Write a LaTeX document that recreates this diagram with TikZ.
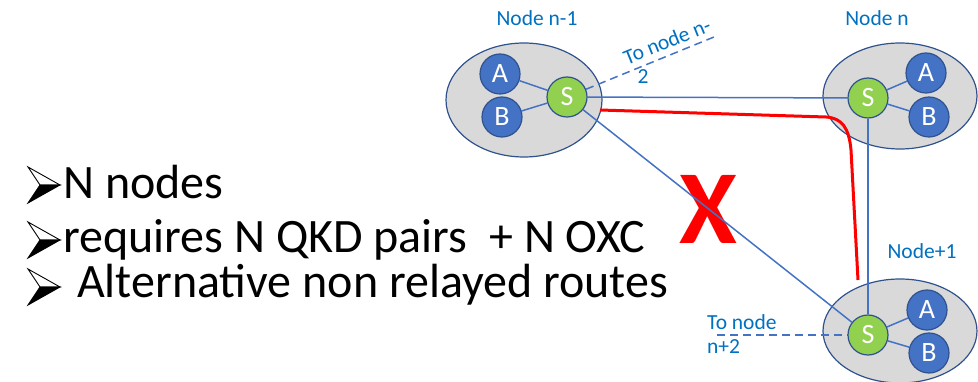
\documentclass[tikz,border=0pt]{standalone}
\usepackage{fontspec}
\setmainfont{Carlito}
\usetikzlibrary{shapes.geometric}
\definecolor{ellfill}{HTML}{D9D9D9}
\definecolor{darkblue}{HTML}{2F528F}
\definecolor{midblue}{HTML}{4472C4}
\definecolor{lblblue}{HTML}{0070C0}
\definecolor{sgreen}{HTML}{92D050}
\definecolor{xred}{HTML}{FF0000}
\pgfdeclarelayer{ellayer}
\pgfdeclarelayer{linklayer}
\pgfsetlayers{ellayer,linklayer,main}
\begin{document}
\begin{tikzpicture}[x=1pt,y=-1pt,
  site/.style={ellipse, draw=darkblue, fill=ellfill, line width=1.2pt, minimum width=#1},
  qkd/.style={circle, draw=darkblue, fill=midblue, line width=1.2pt, minimum size=40pt, inner sep=0pt, text=white, font=\fontsize{28}{28}\selectfont},
  sw/.style={circle, draw=darkblue, fill=sgreen, line width=1.2pt, minimum size=40pt, inner sep=0pt, text=white, font=\fontsize{28}{28}\selectfont},
  link/.style={draw=midblue, line width=1.5pt},
  dlink/.style={draw=midblue, line width=1.5pt, dash pattern=on 8pt off 5pt},
  lbl/.style={text=lblblue, font=\fontsize{21.5}{23}\selectfont, inner sep=0pt},
  bigtxt/.style={anchor=base west, inner sep=0pt, font=\fontsize{48}{48}\selectfont},
  route/.style={draw=xred, line width=3pt},
  bularrow/.pic={
    \filldraw[fill=white, draw=black, line width=0.9pt, line join=miter] (0,-18) -- (32,0) -- (12,0) -- cycle;
    \filldraw[fill=black, draw=black, line width=0.9pt, line join=miter] (12,0) -- (32,0) -- (0,18) -- cycle;
  }
]
\useasboundingbox (0,0) rectangle (978,382);
% site ellipses
\begin{pgfonlayer}{ellayer}
\node[site=156pt, minimum height=114pt] (E1) at (524,100) {};
\node[site=154pt, minimum height=106pt] (E2) at (900,96) {};
\node[site=154pt, minimum height=104pt] (E3) at (900,331) {};
\end{pgfonlayer}
% labels
\node[lbl] (L1) at (537,18) {Node n-1};
\node[lbl] (L2) at (877,18) {Node n};
\node[lbl] (L3) at (922,251) {Node+1};
\node[lbl, rotate=22] (T1) at (667,41) {To node n-};
\node[lbl] (T1b) at (643,77) {2};
\node[lbl, anchor=west] (T2) at (707,322) {To node};
\node[lbl, anchor=west] (T2b) at (707,347) {n+2};
% circles
\node[qkd] (A1) at (500,74) {A};
\node[qkd] (B1) at (502,117) {B};
\node[sw]  (S1) at (567,97) {S};
\node[qkd] (A2) at (926,73) {A};
\node[qkd] (B2) at (929,117) {B};
\node[sw]  (S2) at (868,98) {S};
\node[qkd] (A3) at (927,310) {A};
\node[qkd] (B3) at (929,353) {B};
\node[sw]  (S3) at (868,335) {S};
% dashed ends
\coordinate (D1) at (714,37);
\coordinate (D3) at (717,335);
% red route
\coordinate (R0) at (600,110);
\coordinate (R1) at (826,117);
\coordinate (R2) at (851,150);
\coordinate (R3) at (858,280);
\begin{pgfonlayer}{linklayer}
\node[text=xred, inner sep=0pt, font=\fontsize{105}{105}\selectfont\bfseries] (X) at (708,209) {X};
\draw[route] (R0) -- (R1) .. controls (842,118) and (849,128) .. (R2) -- (R3);
\draw[link] (S1) -- (A1);
\draw[link] (S1) -- (B1);
\draw[link] (S2) -- (A2);
\draw[link] (S2) -- (B2);
\draw[link] (S3) -- (A3);
\draw[link] (S3) -- (B3);
\draw[link] (S1) -- (S2);
\draw[link] (S1) -- (S3);
\draw[link] (S2) -- (S3);
\draw[dlink] (S1) -- (D1);
\draw[dlink] (D3) -- (S3);
\end{pgfonlayer}
% bullets
\pic at (28,185) {bularrow};
\pic at (28,240) {bularrow};
\pic at (28,287) {bularrow};
% bullet text
\node[bigtxt] (t1) at (63,199) {N nodes};
\node[bigtxt] (t2) at (63,253) {requires N QKD pairs~ + N OXC};
\node[bigtxt] (t3) at (77,298) {Alternative non relayed routes};
\end{tikzpicture}
\end{document}
